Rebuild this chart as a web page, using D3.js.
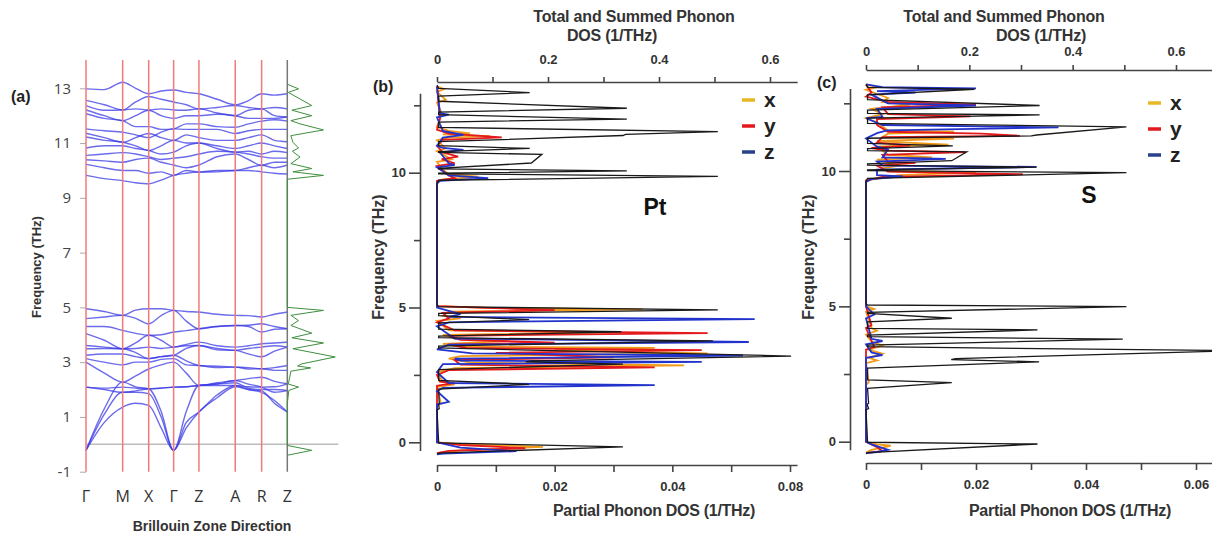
<!DOCTYPE html>
<html>
<head>
<meta charset="utf-8">
<script src="https://cdn.jsdelivr.net/npm/d3@7"></script>
<style>
  body { margin: 0; background: #fff; }
  svg { font-family: "Liberation Sans", Arial, sans-serif; }
</style>
</head>
<body>
<div id="chart"></div>
<script>
// (a) band structure
const kLabels = ["Γ", "M", "X", "Γ", "Z", "A", "R", "Z"]
const kPoints = [0, 1, 1.71, 2.39, 3.08, 4.07, 4.79, 5.49]
const kSamples = [0, 0.5, 1, 1.355, 1.71, 2.05, 2.39, 2.735, 3.08, 3.575, 4.07, 4.43, 4.79, 5.14, 5.49]
const bandTicks = [13, 11, 9, 7, 5, 3, 1, -1]

const upperBands = [
  [12.98, 12.95, 13.22, 13.0, 12.8, 12.9, 12.94, 12.85, 12.8, 12.6, 12.4, 12.55, 12.8, 12.75, 12.8],
  [12.56, 12.4, 12.21, 12.5, 12.7, 12.6, 12.5, 12.4, 12.25, 12.3, 12.37, 12.3, 12.25, 12.3, 12.25],
  [12.37, 12.2, 12.21, 12.25, 12.21, 12.25, 12.21, 12.2, 12.25, 12.1, 12.0, 12.2, 12.25, 12.0, 11.95],
  [12.21, 12.0, 11.82, 12.0, 12.2, 12.0, 11.9, 12.0, 12.0, 12.05, 12.0, 11.9, 11.9, 11.9, 11.95],
  [12.07, 11.9, 11.82, 11.6, 11.6, 11.5, 11.52, 11.7, 11.7, 11.6, 11.58, 11.7, 11.8, 11.85, 11.8],
  [11.52, 11.45, 11.4, 11.3, 11.2, 11.4, 11.52, 11.5, 11.5, 11.5, 11.35, 11.45, 11.5, 11.5, 11.5],
  [11.36, 11.2, 11.03, 11.2, 11.35, 11.2, 11.1, 11.3, 11.2, 11.1, 11.1, 11.2, 11.3, 11.1, 11.05],
  [11.22, 11.1, 11.03, 10.9, 10.73, 10.9, 11.1, 11.0, 11.0, 10.9, 10.8, 10.9, 11.0, 10.9, 10.8],
  [10.82, 10.9, 10.9, 10.8, 10.73, 10.6, 10.67, 10.9, 11.0, 10.8, 10.67, 10.7, 10.6, 10.7, 10.65],
  [10.55, 10.6, 10.65, 10.6, 10.5, 10.4, 10.45, 10.5, 10.6, 10.7, 10.67, 10.6, 10.5, 10.45, 10.45],
  [10.39, 10.35, 10.3, 10.4, 10.45, 10.3, 10.2, 10.1, 10.2, 10.5, 10.6, 10.4, 10.19, 10.3, 10.3],
  [10.22, 10.1, 10.0, 10.0, 9.9, 9.95, 9.82, 10.0, 9.94, 10.0, 10.0, 10.1, 10.19, 10.1, 10.2],
  [9.82, 9.7, 9.63, 9.55, 9.51, 9.65, 9.82, 9.9, 9.94, 9.95, 10.0, 10.0, 9.95, 9.9, 9.87]
]

const lowerBands = [
  [4.95, 4.85, 4.71, 4.9, 4.95, 4.95, 4.89, 4.85, 4.83, 4.75, 4.71, 4.7, 4.65, 4.75, 4.83],
  [4.59, 4.65, 4.71, 4.6, 4.4, 4.7, 4.89, 4.5, 4.22, 4.3, 4.34, 4.3, 4.1, 4.2, 4.22],
  [4.3, 4.3, 4.16, 4.05, 3.98, 4.0, 4.1, 4.15, 4.22, 4.3, 4.34, 4.35, 4.4, 4.3, 4.22],
  [4.04, 3.8, 3.49, 3.7, 3.98, 3.8, 3.55, 3.65, 3.73, 3.6, 3.55, 3.6, 3.67, 3.7, 3.73],
  [3.61, 3.55, 3.49, 3.5, 3.55, 3.5, 3.55, 3.6, 3.61, 3.5, 3.43, 3.5, 3.55, 3.6, 3.55],
  [3.49, 3.5, 3.49, 3.35, 3.13, 3.2, 3.25, 3.5, 3.61, 3.45, 3.43, 3.3, 3.2, 3.4, 3.55],
  [3.25, 3.3, 3.3, 3.2, 3.13, 3.2, 3.25, 3.05, 2.88, 2.85, 2.82, 2.8, 2.76, 2.8, 2.88],
  [3.13, 3.0, 2.9, 3.0, 3.0, 3.1, 3.13, 2.9, 2.88, 2.8, 2.82, 2.75, 2.76, 2.7, 2.7],
  [3.0, 2.6, 2.27, 2.5, 2.75, 2.9, 3.0, 2.6, 2.15, 2.25, 2.33, 2.4, 2.45, 2.3, 2.21],
  [2.09, 2.05, 2.09, 2.05, 2.03, 2.05, 2.09, 2.1, 2.15, 2.15, 2.15, 2.1, 2.09, 2.1, 2.21],
  [2.09, 2.0, 1.9, 1.95, 2.03, 2.05, 2.09, 2.1, 2.15, 2.2, 2.25, 2.05, 2.0, 2.0, 1.96],
  [-0.22, 1.3, 2.27, 2.1, 2.03, 1.2, -0.22, 1.2, 2.15, 2.2, 2.33, 2.2, 2.09, 1.9, 1.96],
  [-0.22, 1.1, 1.9, 1.9, 1.85, 1.0, -0.22, 0.8, 1.18, 1.8, 2.15, 2.0, 1.9, 1.6, 1.18],
  [-0.22, 0.8, 1.36, 1.5, 1.42, 0.6, -0.22, 0.6, 1.18, 1.7, 2.1, 2.0, 1.95, 1.5, 1.18]
]

// [frequency, dos]
const bandDos = [
  [13.15, 0], [12.98, 0.22], [12.85, 0.02], [12.37, 0.48], [12.2, 0.09], [12.0, 0.48], [11.82, 0.07],
  [11.7, 0.25], [11.48, 0.71], [11.27, 0.07], [11.03, 0.11], [10.82, 0.22], [10.7, 0.1], [10.49, 0.25],
  [10.25, 0.07], [10.07, 0.48], [9.95, 0.11], [9.82, 0.71], [9.68, 0], [5.0, 0], [4.89, 0.71],
  [4.71, 0.07], [4.52, 0.22], [4.34, 0.07], [4.06, 0.48], [3.89, 0.09], [3.7, 0.71], [3.49, 0.11],
  [3.19, 0.94], [2.94, 0.29], [2.86, 0.2], [2.79, 0.46], [2.67, 0.07], [2.2, 0.02], [2.09, 0.22],
  [1.97, 0.03], [1.5, 0], [-0.04, 0], [-0.22, 0.48], [-0.4, 0]
]

// (b), (c) phonon DOS, [frequency, dos]
const partialTicks = [0, 0.01, 0.02, 0.03, 0.04, 0.05, 0.06]
const partialLabelsPt = ["0", "", "0.02", "", "0.04", "", "0.08"]
const partialLabelsS = ["0", "", "0.02", "", "0.04", "", "0.06"]
const totalTicks = [0, 0.1, 0.2, 0.3, 0.4, 0.5, 0.6]
const totalLabels = ["0", "", "0.2", "", "0.4", "", "0.6"]
const freqTicks = [0, 2.5, 5, 7.5, 10, 12.5]
const series = ["x", "y", "z"]

const totalPt = [
  [13.25, 0], [13.13, 0.003], [12.97, 0.167], [12.84, 0.003],
  [12.65, 0.003], [12.39, 0.342], [12.25, 0.003],
  [12.15, 0.003], [11.99, 0.342], [11.88, 0.003],
  [11.68, 0.003], [11.52, 0.506], [11.42, 0.34], [11.38, 0.335], [11.15, 0.003],
  [11.0, 0.003], [10.9, 0.167], [10.78, 0.003],
  [10.75, 0.003], [10.68, 0.189], [10.36, 0.17], [10.16, 0.003],
  [10.14, 0.003], [10.07, 0.342], [9.98, 0.003],
  [9.96, 0.003], [9.86, 0.506], [9.72, 0.003],
  [9.6, 0], [5.1, 0],
  [5.03, 0.003], [4.91, 0.506], [4.78, 0.003],
  [4.7, 0.003], [4.55, 0.166], [4.43, 0.003],
  [4.2, 0.003], [4.1, 0.332], [3.94, 0.003],
  [3.88, 0.003], [3.76, 0.497], [3.57, 0.003],
  [3.5, 0.003], [3.2, 0.638], [3.02, 0.17], [2.98, 0.16], [2.9, 0.335], [2.7, 0.003],
  [2.3, 0.003], [2.15, 0.166], [1.97, 0.003],
  [1.45, 0.004], [1.4, 0.003], [1.25, 0.004], [1.2, 0],
  [-0.02, 0.003], [-0.17, 0.335], [-0.4, 0.003], [-0.45, 0]
]

const totalS = [
  [13.2, 0], [13.09, 0.003], [13.02, 0.21], [12.81, 0.003],
  [12.64, 0.003], [12.42, 0.336], [12.25, 0.003],
  [12.13, 0.003], [12.07, 0.336], [11.95, 0.003],
  [11.76, 0.003], [11.63, 0.504], [11.33, 0.33], [11.3, 0.32], [11.21, 0.003],
  [11.02, 0.003], [10.93, 0.168], [10.83, 0.003],
  [10.75, 0.003], [10.71, 0.195], [10.38, 0.166], [10.26, 0.003],
  [10.22, 0.003], [10.14, 0.33], [10.04, 0.003],
  [10.01, 0.003], [9.94, 0.504], [9.73, 0.003],
  [9.6, 0], [5.1, 0],
  [5.05, 0.003], [4.99, 0.504], [4.78, 0.003],
  [4.74, 0.003], [4.56, 0.166], [4.43, 0.003],
  [4.19, 0.003], [4.13, 0.332], [3.94, 0.003],
  [3.88, 0.003], [3.79, 0.497], [3.57, 0.003],
  [3.51, 0.003], [3.36, 0.72], [3.07, 0.173], [3.03, 0.165], [2.95, 0.335], [2.72, 0.003],
  [2.28, 0.003], [2.18, 0.166], [1.97, 0.003],
  [1.42, 0.005], [1.38, 0.002], [1.22, 0.005], [1.18, 0],
  [-0.02, 0.003], [-0.085, 0.332], [-0.4, 0.003], [-0.45, 0]
]

const partialPtX = [
  [13.2, 0], [13.1, 0.0012], [13.0, 0], [12.7, 0.0015], [12.6, 0], [12.2, 0.0008], [11.7, 0],
  [11.55, 0.002], [11.46, 0.0056], [11.42, 0.001], [11.36, 0.009], [11.3, 0.002], [11.2, 0],
  [10.9, 0.0015], [10.8, 0], [10.5, 0.0025], [10.4, 0], [10.1, 0.001], [9.95, 0.002], [9.85, 0.007],
  [9.75, 0.001], [9.65, 0],
  [5.05, 0], [4.98, 0.01], [4.93, 0.035], [4.85, 0.002], [4.7, 0.001], [4.6, 0.004], [4.5, 0],
  [4.15, 0.002], [4.08, 0.031], [3.98, 0.001], [3.85, 0.003], [3.75, 0.012], [3.65, 0.001],
  [3.55, 0.004], [3.5, 0.037], [3.42, 0.02], [3.3, 0.046], [3.2, 0.004], [3.1, 0.002],
  [2.95, 0.006], [2.85, 0.042], [2.75, 0.003], [2.6, 0], [2.25, 0.001], [2.15, 0.003], [2.05, 0],
  [1.5, 0.0006], [1.3, 0], [0.0, 0], [-0.05, 0.003], [-0.17, 0.018], [-0.3, 0.004], [-0.4, 0]
]

const partialPtY = [
  [13.2, 0], [12.0, 0.0005], [11.6, 0], [11.45, 0.002], [11.31, 0.011], [11.22, 0.001], [11.0, 0],
  [10.75, 0.001], [10.6, 0.0036], [10.5, 0.0008], [10.35, 0.003], [10.25, 0], [9.9, 0.002],
  [9.8, 0.003], [9.7, 0],
  [5.05, 0], [4.9, 0.02], [4.8, 0.001], [4.6, 0.002], [4.45, 0],
  [4.15, 0.003], [4.05, 0.046], [3.95, 0.002], [3.8, 0.004], [3.7, 0.02], [3.62, 0.002],
  [3.5, 0.005], [3.42, 0.045], [3.32, 0.01], [3.15, 0.03], [3.05, 0.003],
  [2.88, 0.004], [2.78, 0.037], [2.68, 0.002], [2.5, 0], [2.25, 0.0005], [2.2, 0.003], [2.1, 0],
  [0.0, 0], [-0.1, 0.004], [-0.22, 0.015], [-0.32, 0.002], [-0.4, 0]
]

const partialPtZ = [
  [13.2, 0], [12.2, 0.0005], [12.15, 0.002], [12.05, 0], [11.55, 0.001], [11.4, 0.0045], [11.3, 0.001],
  [11.0, 0], [10.92, 0.001], [10.85, 0.0045], [10.75, 0.0005], [10.35, 0.002], [10.28, 0.003],
  [10.2, 0], [9.9, 0.002], [9.8, 0.0087], [9.7, 0.0005], [9.6, 0],
  [5.0, 0], [4.75, 0.004], [4.65, 0.002], [4.57, 0.054], [4.45, 0.002], [4.3, 0],
  [3.85, 0.003], [3.72, 0.053], [3.62, 0.002], [3.45, 0], [3.3, 0.006], [3.22, 0.052], [3.1, 0.003],
  [3.03, 0.004], [2.98, 0.045], [2.9, 0.001], [2.6, 0],
  [2.2, 0.002], [2.12, 0.037], [2.02, 0.001], [1.9, 0], [1.5, 0.002], [1.4, 0],
  [0.0, 0], [-0.2, 0.004], [-0.33, 0.0135], [-0.42, 0.001], [-0.45, 0]
]

const partialSX = [
  [13.2, 0], [13.1, 0.002], [13.0, 0], [12.7, 0.004], [12.55, 0.003], [12.45, 0.008], [12.3, 0.001],
  [12.1, 0.003], [11.95, 0], [11.8, 0.002], [11.5, 0.004], [11.45, 0.016], [11.38, 0.004],
  [11.25, 0.003], [11.2, 0.016], [11.1, 0.002], [10.97, 0.015], [10.9, 0.002],
  [10.6, 0.004], [10.5, 0.012], [10.42, 0.002], [10.2, 0.006], [10.1, 0.003],
  [10.0, 0.004], [9.95, 0.02], [9.85, 0.006], [9.75, 0.003], [9.65, 0],
  [5.0, 0], [4.9, 0.0015], [4.8, 0], [4.2, 0.001], [4.1, 0.002], [3.95, 0], [3.7, 0.001],
  [3.55, 0.003], [3.4, 0.0005], [3.25, 0.003], [3.1, 0.0005], [3.0, 0.002], [2.9, 0],
  [2.2, 0.0005], [2.1, 0], [0.0, 0], [-0.1, 0.002], [-0.15, 0.0045], [-0.3, 0.001], [-0.4, 0]
]

const partialSY = [
  [13.2, 0], [12.9, 0.001], [12.75, 0], [12.55, 0.004], [12.45, 0.02], [12.35, 0.003],
  [12.1, 0.004], [12.02, 0.019], [11.92, 0.002], [11.7, 0.002],
  [11.45, 0.004], [11.38, 0.021], [11.3, 0.028], [11.25, 0.003],
  [11.05, 0.002], [10.95, 0.008], [10.85, 0.001], [10.75, 0.004], [10.7, 0.018], [10.6, 0.003],
  [10.35, 0.004], [10.3, 0.009], [10.2, 0.002],
  [9.98, 0.004], [9.88, 0.0285], [9.78, 0.003], [9.65, 0],
  [5.0, 0], [4.3, 0.001], [4.2, 0], [3.5, 0.0015], [3.4, 0], [0.0, 0], [-0.2, 0.002],
  [-0.35, 0.003], [-0.42, 0]
]

const partialSZ = [
  [13.2, 0], [13.1, 0.003], [13.05, 0.02], [12.95, 0.002], [12.9, 0.009], [12.82, 0.001],
  [12.5, 0.004], [12.42, 0.02], [12.3, 0.002], [12.0, 0.003], [11.95, 0],
  [11.7, 0.003], [11.61, 0.035], [11.5, 0.0038], [11.4, 0.002], [11.2, 0],
  [10.9, 0.002], [10.8, 0.004], [10.5, 0.003], [10.45, 0.0145], [10.35, 0.002],
  [10.2, 0.003], [10.15, 0.031], [10.05, 0.002], [9.85, 0.002], [9.8, 0.0067], [9.7, 0.001], [9.6, 0],
  [5.0, 0], [4.7, 0.0015], [4.55, 0], [3.8, 0.001], [3.72, 0.003], [3.6, 0], [3.3, 0.001],
  [3.2, 0.003], [3.1, 0], [0.0, 0], [-0.1, 0.001], [-0.3, 0.004], [-0.38, 0.002], [-0.42, 0]
]

const colors = { x: "#f09a1a", y: "#e3191c", z: "#2233cc" }
const legendColors = { x: "#e8b824", y: "#e3191c", z: "#29428a" }

const svg = d3.select("#chart")
  .append("svg")
  .attr("width", 1212)
  .attr("height", 539)

svg.append("rect").attr("width", 1212).attr("height", 539).attr("fill", "#fff")

// ---------- panel (a)
const xa = d3.scaleLinear().domain([0, 5.49]).range([86, 287.3])
const ya = d3.scaleLinear().domain([-1, 13]).range([471.7, 88.3])
const xg = d3.scaleLinear().domain([0, 1]).range([287.3, 338.3])

const ga = svg.append("g")

ga.append("g")
  .attr("transform", "translate(86,0)")
  .call(d3.axisLeft(ya).tickValues(bandTicks).tickSize(6).tickPadding(9).tickFormat(d => String(d)))
  .call(g => g.select(".domain").remove())
  .call(g => g.selectAll(".tick line").attr("stroke", "#aaa"))
  .call(g => g.selectAll(".tick text")
    .attr("fill", "#444").attr("font-size", 15).attr("font-family", "Open Sans, sans-serif"))

ga.append("line")
  .attr("x1", xa(0)).attr("x2", xg(1))
  .attr("y1", ya(0)).attr("y2", ya(0))
  .attr("stroke", "#bbb").attr("stroke-width", 1.5)

const bandLine = d3.line()
  .x((d, i) => xa(kSamples[i]))
  .y(d => ya(d))
  .curve(d3.curveMonotoneX)

ga.append("g")
  .selectAll("path")
  .data(upperBands.concat(lowerBands))
  .join("path")
  .attr("d", bandLine)
  .attr("fill", "none")
  .attr("stroke", "#3a3ae6")
  .attr("stroke-opacity", 0.75)
  .attr("stroke-width", 1.4)

ga.append("g")
  .selectAll("line")
  .data(kPoints)
  .join("line")
  .attr("x1", d => xa(d)).attr("x2", d => xa(d))
  .attr("y1", 60).attr("y2", ya(-1))
  .attr("stroke", (d, i) => i === kPoints.length - 1 ? "#777" : "#f07a7a")
  .attr("stroke-width", 1.5)

ga.append("path")
  .datum(bandDos)
  .attr("d", d3.line().x(d => xg(d[1])).y(d => ya(d[0])))
  .attr("fill", "none")
  .attr("stroke", "#3f8f3f")
  .attr("stroke-width", 1)

ga.append("g")
  .selectAll("text")
  .data(kLabels)
  .join("text")
  .attr("x", (d, i) => xa(kPoints[i]))
  .attr("y", 502)
  .attr("text-anchor", "middle")
  .attr("font-size", 16)
  .attr("font-family", "Open Sans, sans-serif")
  .attr("fill", "#333")
  .text(d => d)

ga.append("text")
  .attr("x", 212).attr("y", 531)
  .attr("text-anchor", "middle")
  .attr("font-size", 14).attr("font-weight", "bold")
  .attr("fill", "#333")
  .text("Brillouin Zone Direction")

ga.append("text")
  .attr("transform", "translate(41,267) rotate(-90)")
  .attr("text-anchor", "middle")
  .attr("font-size", 13).attr("font-weight", "bold")
  .attr("fill", "#333")
  .text("Frequency (THz)")

ga.append("text")
  .attr("x", 11).attr("y", 102)
  .attr("font-size", 16).attr("font-weight", "bold")
  .attr("fill", "#222")
  .text("(a)")

// ---------- panels (b), (c)
function dosPanel(p) {
  const g = svg.append("g")
  const y = d3.scaleLinear().domain([0, 10]).range([p.y0, p.y10])
  const xP = d3.scaleLinear().domain([0, 0.06]).range([p.x0, p.xP])
  const xT = d3.scaleLinear().domain([0, 0.6]).range([p.x0, p.xT])

  const yAxis = y.copy().domain([-0.3, p.yTop]).range([y(-0.3), y(p.yTop)])
  const xPAxis = xP.copy().domain([0, p.pMax]).range([p.x0, xP(p.pMax)])
  const xTAxis = xT.copy().domain([0, p.tMax]).range([p.x0, xT(p.tMax)])

  const style = sel => {
    sel.select(".domain").attr("stroke", "#444").attr("stroke-width", 1.6)
    sel.selectAll(".tick line").attr("stroke", "#444").attr("stroke-width", 1.6)
    sel.selectAll(".tick text")
      .attr("fill", "#333").attr("font-size", 13).attr("font-weight", "bold")
  }

  g.append("g")
    .attr("transform", `translate(${p.xAxis},0)`)
    .call(d3.axisLeft(yAxis).tickValues(freqTicks).tickSize(11).tickPadding(3).tickSizeOuter(0)
      .tickFormat(d => d % 5 === 0 ? d : ""))
    .call(style)
    .call(s => s.selectAll(".tick").filter(d => d % 5 !== 0).select("line").attr("x2", -6))

  g.append("g")
    .attr("transform", `translate(0,${p.yBottom})`)
    .call(d3.axisBottom(xPAxis).tickValues(partialTicks).tickSize(7).tickPadding(10).tickSizeOuter(0)
      .tickFormat((d, i) => p.partialLabels[i]))
    .call(style)

  g.append("g")
    .attr("transform", `translate(0,${p.yTopAxis})`)
    .call(d3.axisTop(xTAxis).tickValues(totalTicks).tickSize(5).tickPadding(p.topPad).tickSizeOuter(0)
      .tickFormat((d, i) => totalLabels[i]))
    .call(style)

  const lineT = d3.line().x(d => xT(d[1])).y(d => y(d[0]))
  const lineP = d3.line().x(d => xP(d[1])).y(d => y(d[0]))

  g.append("g")
    .selectAll("path")
    .data(series)
    .join("path")
    .attr("d", d => lineP(p.partial[d]))
    .attr("fill", "none")
    .attr("stroke", d => colors[d])
    .attr("stroke-width", 1.8)

  g.append("path")
    .datum(p.total)
    .attr("d", lineT)
    .attr("fill", "none")
    .attr("stroke", "#1a1a1a")
    .attr("stroke-width", 1.3)

  const lg = g.append("g")
    .selectAll("g")
    .data(series)
    .join("g")
    .attr("transform", (d, i) => `translate(${p.legendX},${p.legendY + i * 26})`)
  lg.append("line")
    .attr("x1", 0).attr("x2", 13)
    .attr("stroke", d => legendColors[d]).attr("stroke-width", 3.5)
  lg.append("text")
    .attr("x", 22).attr("y", 7)
    .attr("font-size", 21).attr("font-weight", "bold").attr("fill", "#222")
    .text(d => d)

  g.append("text")
    .attr("x", p.atomX).attr("y", p.atomY)
    .attr("text-anchor", "middle")
    .attr("font-size", 23).attr("font-weight", "bold").attr("fill", "#111")
    .text(p.atom)

  g.append("text")
    .attr("x", p.tx1).attr("y", 22)
    .attr("text-anchor", "middle")
    .attr("font-size", 16).attr("font-weight", "bold").attr("fill", "#333")
    .attr("letter-spacing", -0.2)
    .text("Total and Summed Phonon")
  g.append("text")
    .attr("x", p.tx2).attr("y", 41)
    .attr("text-anchor", "middle")
    .attr("font-size", 16).attr("font-weight", "bold").attr("fill", "#333")
    .attr("letter-spacing", -0.2)
    .text("DOS (1/THz)")

  g.append("text")
    .attr("x", p.bx).attr("y", 516)
    .attr("text-anchor", "middle")
    .attr("font-size", 16).attr("font-weight", "bold").attr("fill", "#333")
    .attr("letter-spacing", -0.3)
    .text("Partial Phonon DOS (1/THz)")

  g.append("text")
    .attr("transform", `translate(${p.fx},257) rotate(-90)`)
    .attr("text-anchor", "middle")
    .attr("font-size", 16).attr("font-weight", "bold").attr("fill", "#333")
    .text("Frequency (THz)")

  g.append("text")
    .attr("x", p.labelX).attr("y", p.labelY)
    .attr("font-size", 16).attr("font-weight", "bold").attr("fill", "#222")
    .text(p.label)
}

dosPanel({
  label: "(b)", labelX: 373, labelY: 92,
  atom: "Pt", atomX: 655, atomY: 215,
  x0: 437, xP: 790, xT: 770, y0: 442.3, y10: 172.7,
  xAxis: 420, yTop: 12.95, yBottom: 465, yTopAxis: 82, topPad: 13,
  pMax: 0.0612, tMax: 0.649,
  partialLabels: partialLabelsPt,
  total: totalPt,
  partial: { x: partialPtX, y: partialPtY, z: partialPtZ },
  legendX: 742, legendY: 100,
  tx1: 634, tx2: 612, bx: 654, fx: 384
})

dosPanel({
  label: "(c)", labelX: 817, labelY: 88,
  atom: "S", atomX: 1089, atomY: 203,
  x0: 866, xP: 1196, xT: 1176, y0: 441.7, y10: 171,
  xAxis: 850, yTop: 13.05, yBottom: 463, yTopAxis: 70, topPad: 9,
  pMax: 0.0645, tMax: 0.69,
  partialLabels: partialLabelsS,
  total: totalS,
  partial: { x: partialSX, y: partialSY, z: partialSZ },
  legendX: 1148, legendY: 103,
  tx1: 1004, tx2: 1041, bx: 1070, fx: 814
})
</script>
</body>
</html>
